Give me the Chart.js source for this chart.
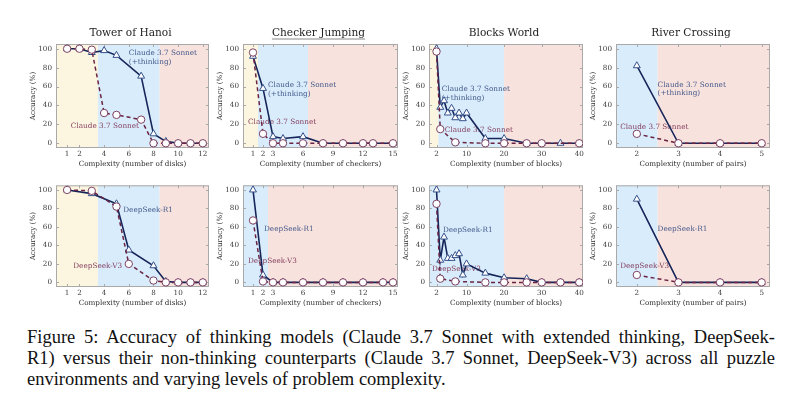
<!DOCTYPE html>
<html>
<head>
<meta charset="utf-8">
<script src="https://cdn.jsdelivr.net/npm/chart.js@4.4.1/dist/chart.umd.min.js"></script>
<style>
  body { margin: 0; background: #fff; width: 800px; height: 396px; overflow: hidden; position: relative; }
  canvas { position: absolute; }
  #caption { position: absolute; left: 27px; top: 327px; width: 748px; font-family: "Liberation Serif", serif; font-size: 18.5px; line-height: 21px; color: #111; }
  #caption .j { text-align: justify; text-align-last: justify; }
  #caption div { white-space: nowrap; }
</style>
</head>
<body>
<canvas id="c0"></canvas><canvas id="c1"></canvas><canvas id="c2"></canvas><canvas id="c3"></canvas>
<canvas id="c4"></canvas><canvas id="c5"></canvas><canvas id="c6"></canvas><canvas id="c7"></canvas>
<div id="caption">
  <div class="j">Figure 5: Accuracy of thinking models (Claude 3.7 Sonnet with extended thinking, DeepSeek-</div>
  <div class="j">R1) versus their non-thinking counterparts (Claude 3.7 Sonnet, DeepSeek-V3) across all puzzle</div>
  <div>environments and varying levels of problem complexity.</div>
</div>
<script>
// ---- data ----
const yTicks = [0, 20, 40, 60, 80, 100];

// Tower of Hanoi
const hanoiTicks = [1, 2, 4, 6, 8, 10, 12];
const hanoiClaudeX = [1, 2, 3, 4, 5, 7, 8, 9, 10, 11, 12];
const hanoiClaudeThinking = [100, 100, 96, 98, 93, 71, 10, 2, 0, 0, 0];
const hanoiClaude = [100, 100, 99, 32, 30, 25, 0, 0, 0, 0, 0];
const hanoiDeepSeekX = [1, 3, 5, 6, 8, 9, 10, 11, 12];
const hanoiR1 = [100, 96, 85, 35, 18, 1, 0, 0, 0];
const hanoiV3 = [100, 99, 82, 20, 2, 0, 0, 0, 0];

// Checker Jumping
const checkerTicks = [1, 2, 3, 6, 9, 12, 15];
const checkerClaudeX = [1, 2, 3, 4, 6, 8, 10, 12, 13, 15];
const checkerClaudeThinking = [92, 58, 7, 5, 7, 0, 0, 0, 0, 0];
const checkerClaude = [96, 10, 0, 0, 0, 0, 0, 0, 0, 0];
const checkerDeepSeekX = [1, 2, 3, 4, 6, 8, 10, 12, 14, 15];
const checkerR1 = [100, 8, 0, 0, 0, 0, 0, 0, 0, 0];
const checkerV3 = [67, 1, 0, 0, 0, 0, 0, 0, 0, 0];

// Blocks World
const blocksTicks = [2, 10, 20, 30, 40];
const blocksThinkingX = [2, 3, 4, 5, 6, 7, 8, 9, 10, 15, 20, 26, 30, 35, 40];
const blocksClaudeThinking = [100, 38, 45, 32, 37, 27, 32, 26, 32, 5, 5, 0, 0, 0, 0];
const blocksR1 = [100, 24, 49, 26, 26, 29, 31, 8, 20, 10, 5, 4, 0, 0, 0];
const blocksClaudeX = [2, 3, 7, 15, 20, 26, 30, 40];
const blocksClaude = [97, 15, 1, 0, 0, 0, 0, 0];
const blocksV3X = [2, 3, 7, 15, 20, 26, 30, 35, 40];
const blocksV3 = [85, 4, 1, 0, 0, 0, 0, 0, 0];

// River Crossing
const riverTicks = [2, 3, 4, 5];
const riverX = [2, 3, 4, 5];
const riverClaudeThinking = [82, 0, 0, 0];
const riverClaude = [10, 0, 0, 0];
const riverR1 = [90, 0, 0, 0];
const riverV3 = [8, 0, 0, 0];

// ---- styling ----
const FONT = "'DejaVu Serif', 'Liberation Serif', serif";
const YELLOW = '#fcf6e0', BLUE = '#d8ecfb', PINK = '#f8e2dd';
const THINK_LINE = '#16265a', THINK_PT = '#34508a', THINK_TXT = '#44598b';
const BASE_LINE = '#6a2443', BASE_PT = '#7d4263', BASE_TXT = '#864060';

const cols = [[56, 209], [243, 398], [429, 583], [616, 770]];
const rows = [[44, 148], [183, 287]];

function pts(xs, ys) { return xs.map((x, i) => ({ x: x, y: ys[i] })); }

const panels = [
  { col: 0, row: 0, title: 'Tower of Hanoi', xLabel: 'Complexity (number of disks)', ticks: hanoiTicks, min: 0.1, max: 12.5,
    bands: [[-99, 3.5, YELLOW], [3.5, 8.5, BLUE], [8.5, 99, PINK]],
    think: pts(hanoiClaudeX, hanoiClaudeThinking), base: pts(hanoiClaudeX, hanoiClaude),
    labels: [{ t: ['Claude 3.7 Sonnet', '(+thinking)'], x: 6.0, y: 95, c: THINK_TXT }, { t: ['Claude 3.7 Sonnet'], x: 1.3, y: 18, c: BASE_TXT }] },
  { col: 1, row: 0, title: 'Checker Jumping', underline: true, xLabel: 'Complexity (number of checkers)', ticks: checkerTicks, min: 0, max: 15.5,
    bands: [[-99, 1.5, YELLOW], [1.5, 6.5, BLUE], [6.5, 99, PINK]],
    think: pts(checkerClaudeX, checkerClaudeThinking), base: pts(checkerClaudeX, checkerClaude),
    labels: [{ t: ['Claude 3.7 Sonnet', '(+thinking)'], x: 2.5, y: 61, c: THINK_TXT }, { t: ['Claude 3.7 Sonnet'], x: 0.5, y: 22, c: BASE_TXT }] },
  { col: 2, row: 0, title: 'Blocks World', xLabel: 'Complexity (number of blocks)', ticks: blocksTicks, min: 0, max: 41,
    bands: [[-99, 2.5, YELLOW], [2.5, 20, BLUE], [20, 99, PINK]],
    think: pts(blocksThinkingX, blocksClaudeThinking), base: pts(blocksClaudeX, blocksClaude),
    labels: [{ t: ['Claude 3.7 Sonnet', '(+thinking)'], x: 3.4, y: 57, c: THINK_TXT }, { t: ['Claude 3.7 Sonnet'], x: 4.2, y: 13.5, c: BASE_TXT }] },
  { col: 3, row: 0, title: 'River Crossing', xLabel: 'Complexity (number of pairs)', ticks: riverTicks, min: 1.5, max: 5.2,
    bands: [[-99, 2.5, BLUE], [2.5, 99, PINK]],
    think: pts(riverX, riverClaudeThinking), base: pts(riverX, riverClaude),
    labels: [{ t: ['Claude 3.7 Sonnet', '(+thinking)'], x: 2.5, y: 62, c: THINK_TXT }, { t: ['Claude 3.7 Sonnet'], x: 1.6, y: 17.5, c: BASE_TXT }] },
  { col: 0, row: 1, xLabel: 'Complexity (number of disks)', ticks: hanoiTicks, min: 0.1, max: 12.5,
    bands: [[-99, 3.5, YELLOW], [3.5, 8.5, BLUE], [8.5, 99, PINK]],
    think: pts(hanoiDeepSeekX, hanoiR1), base: pts(hanoiDeepSeekX, hanoiV3),
    labels: [{ t: ['DeepSeek-R1'], x: 5.55, y: 78, c: THINK_TXT }, { t: ['DeepSeek-V3'], x: 1.5, y: 17.5, c: BASE_TXT }] },
  { col: 1, row: 1, xLabel: 'Complexity (number of checkers)', ticks: checkerTicks, min: 0, max: 15.5,
    bands: [[-99, 2.5, BLUE], [2.5, 99, PINK]],
    think: pts(checkerDeepSeekX, checkerR1), base: pts(checkerDeepSeekX, checkerV3),
    labels: [{ t: ['DeepSeek-R1'], x: 2.1, y: 58, c: THINK_TXT }, { t: ['DeepSeek-V3'], x: 0.5, y: 23, c: BASE_TXT }] },
  { col: 2, row: 1, xLabel: 'Complexity (number of blocks)', ticks: blocksTicks, min: 0, max: 41,
    bands: [[-99, 20, BLUE], [20, 99, PINK]],
    think: pts(blocksThinkingX, blocksR1), base: pts(blocksV3X, blocksV3),
    labels: [{ t: ['DeepSeek-R1'], x: 3.7, y: 57, c: THINK_TXT }, { t: ['DeepSeek-V3'], x: 0.8, y: 14.5, c: BASE_TXT }] },
  { col: 3, row: 1, xLabel: 'Complexity (number of pairs)', ticks: riverTicks, min: 1.5, max: 5.2,
    bands: [[-99, 2.5, BLUE], [2.5, 99, PINK]],
    think: pts(riverX, riverR1), base: pts(riverX, riverV3),
    labels: [{ t: ['DeepSeek-R1'], x: 2.5, y: 58, c: THINK_TXT }, { t: ['DeepSeek-V3'], x: 1.6, y: 17.5, c: BASE_TXT }] }
];

// title over the plot box, background bands, frame with inward ticks, in-plot labels
const panelDecor = {
  id: 'panelDecor',
  beforeDatasetsDraw(chart) {
    const p = chart.config.options.plugins.panelDecor;
    const a = chart.chartArea, ctx = chart.ctx, xs = chart.scales.x, ys = chart.scales.y;
    ctx.save();
    p.bands.forEach(b => {
      const l = Math.max(a.left, xs.getPixelForValue(b[0]));
      const r = Math.min(a.right, xs.getPixelForValue(b[1]));
      if (r > l) { ctx.fillStyle = b[2]; ctx.fillRect(l, a.top, r - l, a.bottom - a.top); }
    });
    ctx.strokeStyle = '#a9a9a9';
    ctx.lineWidth = 1;
    ctx.strokeRect(a.left + 0.5, a.top + 0.5, a.right - a.left - 1, a.bottom - a.top - 1);
    ctx.beginPath();
    p.ticks.forEach(v => {
      const px = Math.round(xs.getPixelForValue(v)) + 0.5;
      ctx.moveTo(px, a.bottom); ctx.lineTo(px, a.bottom - 3);
      ctx.moveTo(px, a.top); ctx.lineTo(px, a.top + 3);
    });
    yTicks.forEach(v => {
      const py = Math.round(ys.getPixelForValue(v)) + 0.5;
      ctx.moveTo(a.left, py); ctx.lineTo(a.left + 3, py);
      ctx.moveTo(a.right, py); ctx.lineTo(a.right - 3, py);
    });
    ctx.stroke();

    ctx.font = "7.3px " + FONT;
    ctx.textAlign = 'left';
    ctx.textBaseline = 'middle';
    p.labels.forEach(lb => {
      ctx.fillStyle = lb.c;
      const x0 = xs.getPixelForValue(lb.x), y0 = ys.getPixelForValue(lb.y);
      lb.t.forEach((s, i) => ctx.fillText(s, x0, y0 + i * 8.5));
    });

    if (p.title) {
      const cx = (a.left + a.right) / 2 - 2, cy = a.top - 10.5;
      ctx.font = "10.6px " + FONT;
      ctx.textAlign = 'center';
      ctx.fillStyle = '#1e1e1e';
      ctx.fillText(p.title, cx, cy);
      if (p.underline) {
        const w = ctx.measureText(p.title).width;
        ctx.strokeStyle = '#888';
        ctx.beginPath();
        ctx.moveTo(cx - w / 2, cy + 5.5); ctx.lineTo(cx + w / 2, cy + 5.5);
        ctx.stroke();
      }
    }
    ctx.restore();
  }
};

panels.forEach((p, i) => {
  const [pl, pr] = cols[p.col];
  const [pt, pb] = rows[p.row];
  const topSpace = p.row === 0 ? 28 : 6;
  const cv = document.getElementById('c' + i);
  cv.width = 32 + (pr - pl) + 6;
  cv.height = topSpace + (pb - pt) + 24;
  cv.style.left = (pl - 32) + 'px';
  cv.style.top = (pt - topSpace) + 'px';

  const tickFont = { family: FONT, size: 7.2 };
  new Chart(cv, {
    type: 'line',
    data: {
      datasets: [
        { data: p.base, borderColor: BASE_LINE, borderWidth: 1.5, borderDash: [4, 3],
          pointStyle: 'circle', pointRadius: 3.7, pointBackgroundColor: '#fff', pointBorderColor: BASE_PT, pointBorderWidth: 1 },
        { data: p.think, borderColor: THINK_LINE, borderWidth: 1.6,
          pointStyle: 'triangle', pointRadius: 4, pointBackgroundColor: '#fff', pointBorderColor: THINK_PT, pointBorderWidth: 1 }
      ]
    },
    options: {
      responsive: false,
      animation: false,
      devicePixelRatio: 1,
      layout: { padding: { left: 0, right: 6, top: topSpace, bottom: 0 } },
      plugins: {
        legend: { display: false },
        tooltip: { enabled: false },
        title: { display: false },
        panelDecor: { bands: p.bands, ticks: p.ticks, labels: p.labels, underline: p.underline, title: p.title }
      },
      scales: {
        x: {
          type: 'linear', min: p.min, max: p.max,
          afterBuildTicks: s => { s.ticks = p.ticks.map(v => ({ value: v })); },
          afterFit: s => { s.height = 24; },
          grid: { display: false, drawTicks: false },
          border: { display: false },
          ticks: { font: tickFont, color: '#3a3a3a', padding: 2, maxRotation: 0, autoSkip: false },
          title: { display: true, text: p.xLabel, color: '#2e2e2e', font: tickFont, padding: { top: 0, bottom: 4 } }
        },
        y: {
          min: -5, max: 105,
          afterBuildTicks: s => { s.ticks = yTicks.map(v => ({ value: v })); },
          afterFit: s => { s.width = 32; },
          grid: { display: false, drawTicks: false },
          border: { display: false },
          ticks: { font: tickFont, color: '#3a3a3a', padding: 4 },
          title: { display: true, text: 'Accuracy (%)', color: '#2e2e2e', font: tickFont, padding: { top: 5, bottom: 0 } }
        }
      }
    },
    plugins: [panelDecor]
  });
});
</script>
</body>
</html>
